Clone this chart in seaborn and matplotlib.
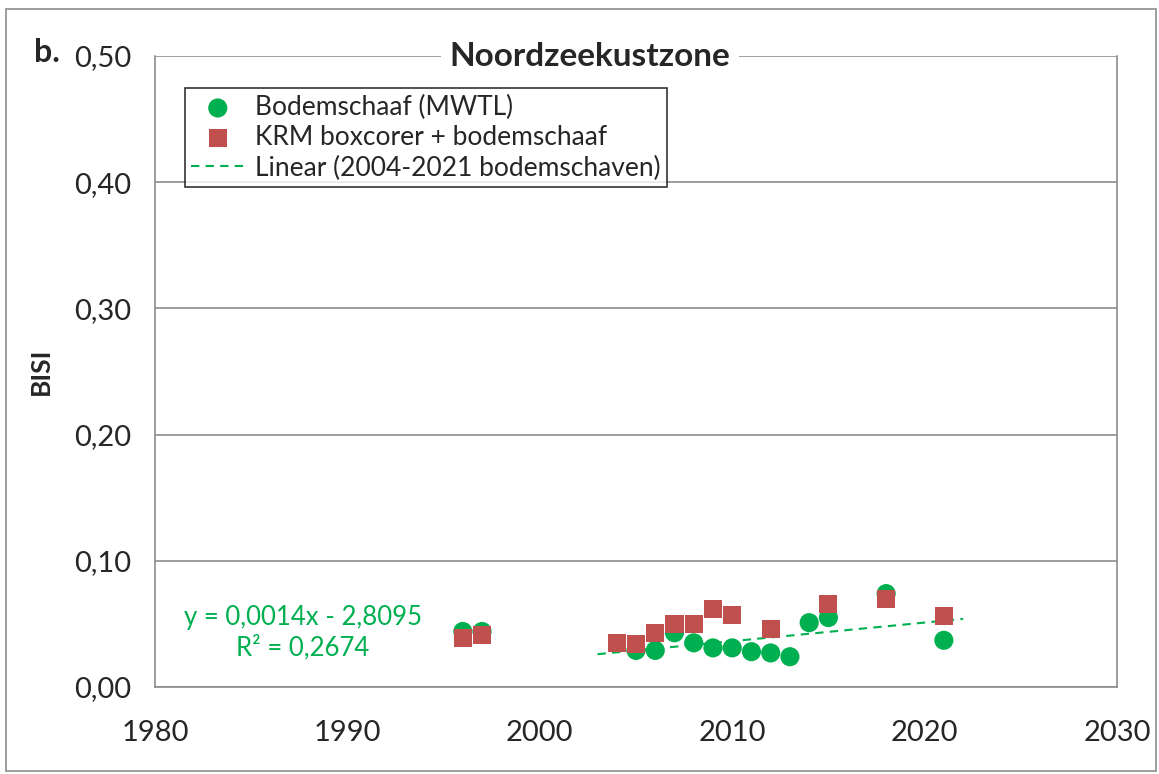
import numpy as np
import pandas as pd
import matplotlib
matplotlib.use("Agg")
import matplotlib.pyplot as plt
import seaborn as sns
from matplotlib.ticker import FuncFormatter
from matplotlib.patches import Rectangle

# ── data ───────────────────────────────────────────────────
mwtl_years = [1996, 1997, 2005, 2006, 2007, 2008, 2009, 2010, 2011, 2012,
              2013, 2014, 2015, 2018, 2021]
mwtl_bisi  = [0.044, 0.044, 0.029, 0.029, 0.043, 0.035, 0.031, 0.031, 0.028,
              0.027, 0.024, 0.051, 0.055, 0.074, 0.037]

krm_years  = [1996, 1997, 2004, 2005, 2006, 2007, 2008, 2009, 2010, 2012,
              2015, 2018, 2021]
krm_bisi   = [0.039, 0.041, 0.035, 0.034, 0.043, 0.050, 0.050, 0.062, 0.057,
              0.046, 0.066, 0.070, 0.056]

trend_years = [2003, 2022]
trend_bisi  = [0.026, 0.054]

green = "#00B050"
red   = "#C0504D"

mwtl  = pd.DataFrame({"year": mwtl_years, "BISI": mwtl_bisi})
krm   = pd.DataFrame({"year": krm_years, "BISI": krm_bisi})
trend = pd.DataFrame({"year": trend_years, "BISI": trend_bisi})

# ── plot ───────────────────────────────────────────────────
sns.set_style("white")
plt.rcParams["font.family"] = ["Lato", "DejaVu Sans"]

fig = plt.figure(figsize=(11.59, 7.74), dpi=100)
ax = fig.add_axes([0.1337, 0.1124, 0.8301, 0.8152])

sns.lineplot(data=trend, x="year", y="BISI", ax=ax, color=green, lw=1.5,
             linestyle=(0, (4, 3)), label="Linear (2004-2021 bodemschaven)", zorder=2)
sns.scatterplot(data=mwtl, x="year", y="BISI", ax=ax, color=green, s=190,
                marker="o", edgecolor="none", label="Bodemschaaf (MWTL)", zorder=3)
sns.scatterplot(data=krm, x="year", y="BISI", ax=ax, color=red, s=170,
                marker="s", edgecolor="none", label="KRM boxcorer + bodemschaaf", zorder=4)

ax.set_xlim(1980, 2030)
ax.set_ylim(0, 0.5)
ax.set_xticks(range(1980, 2031, 10))
ax.set_yticks(np.arange(0, 0.51, 0.1))
ax.yaxis.set_major_formatter(FuncFormatter(lambda v, p: f"{v:.2f}".replace(".", ",")))
ax.grid(axis="y", color="#8c8c8c", lw=1.2)
ax.set_axisbelow(True)
for side in ["left", "right", "top", "bottom"]:
    ax.spines[side].set_color("#8c8c8c")
    ax.spines[side].set_linewidth(1.2)
ax.spines["top"].set_visible(False)
ax.tick_params(axis="both", labelsize=21, direction="out", length=7,
               color="#8c8c8c", width=1.2)
ax.tick_params(axis="x", pad=17)
ax.tick_params(axis="y", pad=10)
ax.set_xlabel("")
ax.set_ylabel("BISI", fontsize=19, fontweight="bold", labelpad=15)

ax.text(0.452, 1.0, "Noordzeekustzone", transform=ax.transAxes, ha="center",
        va="center", fontsize=24, fontweight="bold",
        bbox=dict(facecolor="white", edgecolor="none", pad=6))
fig.text(0.029, 0.932, "b.", fontsize=23, fontweight="bold", ha="left", va="center")

ax.text(1987.7, 0.055, "y = 0,0014x - 2,8095", color=green, fontsize=18.5,
        ha="center", va="center")
ax.text(1987.7, 0.031, "R² = 0,2674", color=green, fontsize=18.5,
        ha="center", va="center")

handles, labels = ax.get_legend_handles_labels()
order = [1, 2, 0]
leg = ax.legend([handles[i] for i in order], [labels[i] for i in order],
                loc="upper left", bbox_to_anchor=(0.031, 0.949), borderaxespad=0,
                fontsize=19, frameon=True, fancybox=False, edgecolor="black",
                handlelength=2.0, borderpad=0.25, labelspacing=0.2, handletextpad=0.4)
leg.get_frame().set_linewidth(1.2)

fig.patches.append(Rectangle((0.005, 0.004), 0.992, 0.985, transform=fig.transFigure,
                             fill=False, edgecolor="#8c8c8c", lw=1.2))

plt.savefig("out.png", dpi=100)
plt.close()
